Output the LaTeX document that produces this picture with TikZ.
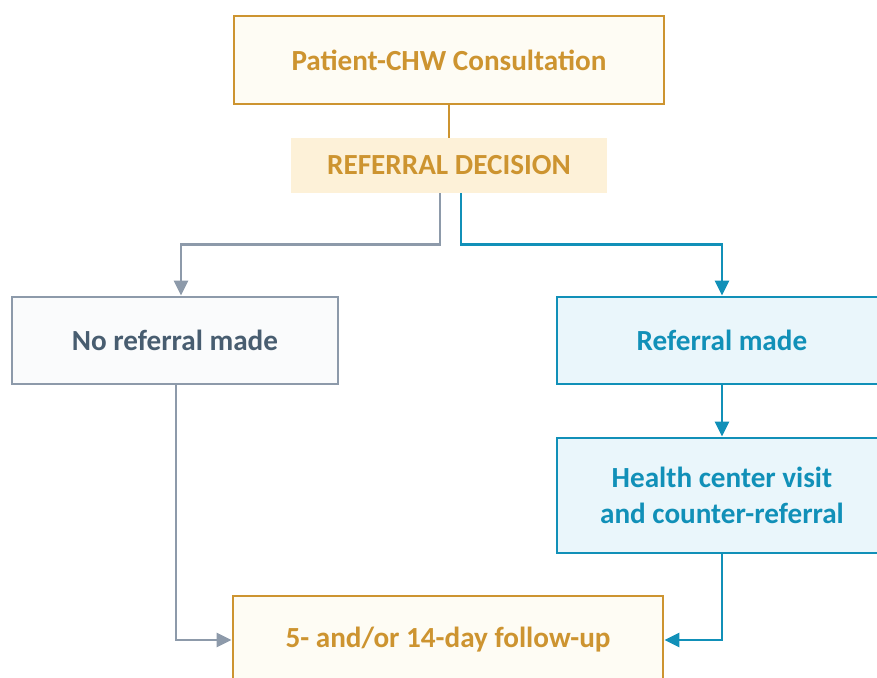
\documentclass[tikz,border=0pt]{standalone}
\usepackage{fontspec}
\setmainfont{Carlito}
\usetikzlibrary{positioning,arrows.meta}

\definecolor{gold}{RGB}{205,148,48}
\definecolor{creamfill}{RGB}{254,252,244}
\definecolor{decisionfill}{RGB}{253,241,216}
\definecolor{slateline}{RGB}{141,154,170}
\definecolor{slatetext}{RGB}{72,93,112}
\definecolor{slatefill}{RGB}{250,251,252}
\definecolor{tealline}{RGB}{17,144,184}
\definecolor{tealfill}{RGB}{234,246,251}

\begin{document}
\begin{tikzpicture}[
        x=0.02cm, y=-0.02cm, % one unit is one pixel of the layout
        >={Triangle[width=0.28cm,length=0.3cm]}, % sets arrowhead style
        every node/.style={font=\fontsize{16.6}{20.6}\selectfont\bfseries, align=center, inner sep=0pt},
        goldbox/.style={draw=gold, fill=creamfill, line width=1.6pt, text=gold,
            minimum width=8.6cm, minimum height=1.76cm},
        decisionbox/.style={fill=decisionfill, text=gold,
            minimum width=6.34cm, minimum height=1.1cm},
        slatebox/.style={draw=slateline, fill=slatefill, line width=1.6pt, text=slatetext,
            minimum width=6.52cm, minimum height=1.74cm},
        tealbox/.style={draw=tealline, fill=tealfill, line width=1.6pt, text=tealline,
            minimum width=6.6cm, minimum height=1.74cm},
        slatearrow/.style={draw=slateline, line width=1.6pt},
        tealarrow/.style={draw=tealline, line width=1.6pt},
    ]
        \clip (0,0) rectangle (877,678);

        % Nodes
        \node[goldbox] (consult) at (449,60) {Patient-CHW Consultation};
        \node[decisionbox] (decide) at (449,165.5) {REFERRAL DECISION};
        \node[slatebox] (noref) at (175,340.5) {No referral made};
        \node[tealbox] (ref) at (722,340.5) {Referral made};
        \node[tealbox, minimum height=2.3cm] (visit) at (722,495.5)
            {Health center visit\\and counter-referral};
        \node[goldbox] (follow) at (448,640) {5- and/or 14-day follow-up};

        % Consultation to decision:
        \draw[gold, line width=1.6pt] (consult) -- (decide);

        % No referral branch:
        \draw[slatearrow, ->] ([xshift=-0.18cm]decide.south) -- ++(0,51)
            -| ([xshift=0.12cm]noref.north);
        \draw[slatearrow, ->] ([xshift=0.02cm]noref.south) |- (follow.west);

        % Referral branch:
        \draw[tealarrow, ->] ([xshift=0.24cm]decide.south) -- ++(0,51)
            -| (ref.north);
        \draw[tealarrow, ->] (ref) -- (visit);
        \draw[tealarrow, ->] (visit.south) |- (follow.east);

    \end{tikzpicture}
\end{document}
